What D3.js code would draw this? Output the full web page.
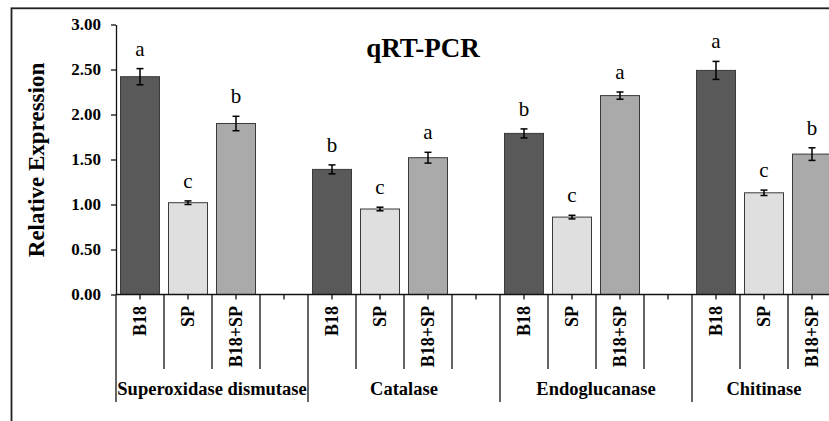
<!DOCTYPE html>
<html>
<head>
<meta charset="utf-8">
<script src="https://cdn.jsdelivr.net/npm/d3@7"></script>
<style>
  body { margin: 0; background: #fff; }
  svg { display: block; }
  text { font-family: "Liberation Serif", "Times New Roman", serif; fill: #000; }
</style>
</head>
<body>
<svg id="chart" width="829" height="421"></svg>
<script>
// data
var genes = ["Superoxidase dismutase", "Catalase", "Endoglucanase", "Chitinase"];
var treatments = ["B18", "SP", "B18+SP"];
var b18Mean = [2.42, 1.39, 1.79, 2.49];
var spMean = [1.02, 0.95, 0.86, 1.13];
var comboMean = [1.90, 1.52, 2.21, 1.56];
var b18Err = [0.09, 0.05, 0.05, 0.10];
var spErr = [0.02, 0.02, 0.02, 0.03];
var comboErr = [0.08, 0.06, 0.04, 0.07];
var b18Letter = ["a", "b", "b", "a"];
var spLetter = ["c", "c", "c", "c"];
var comboLetter = ["b", "a", "a", "b"];
var yTicks = [0, 0.5, 1, 1.5, 2, 2.5, 3];

var bar_color = { "B18": "#595959", "SP": "#dfdfdf", "B18+SP": "#aaaaaa" };

// one slot per bar, plus an empty slot closing every group except the last
let slots = [];
let rows = [];
genes.forEach(function (g, gi) {
  let means = [b18Mean[gi], spMean[gi], comboMean[gi]];
  let errs = [b18Err[gi], spErr[gi], comboErr[gi]];
  let letters = [b18Letter[gi], spLetter[gi], comboLetter[gi]];
  treatments.forEach(function (t, ti) {
    let key = g + "|" + t;
    slots.push(key);
    rows.push({ key: key, gene: g, treat: t, mean: means[ti], err: errs[ti], letter: letters[ti] });
  });
  if (gi < genes.length - 1) slots.push(g + "|gap");
});

var svg = d3.select("#chart");

var x0 = 116, x1 = 836, yBase = 294.5, yTop = 24.5;

var x = d3.scaleBand()
  .domain(slots)
  .range([x0, x1])
  .paddingInner(0.1875)
  .paddingOuter(0.09375);
var step = x.step();

var y = d3.scaleLinear().domain([0, 3]).range([yBase, yTop]);

// outer frame (runs off the page on the right and bottom)
svg.append("rect")
  .attr("x", 11.5).attr("y", 8.3)
  .attr("width", 900).attr("height", 500)
  .attr("fill", "none").attr("stroke", "#222").attr("stroke-width", 1.8);

// title
svg.append("text")
  .attr("x", 423).attr("y", 57)
  .attr("text-anchor", "middle")
  .style("font-size", "27px").style("font-weight", "bold")
  .text("qRT-PCR");

// y axis
var yAxis = svg.append("g")
  .attr("transform", "translate(" + x0 + ",0)")
  .call(d3.axisLeft(y).tickValues(yTicks).tickFormat(d3.format(".2f")).tickSize(5).tickSizeOuter(0));
yAxis.select(".domain").attr("stroke", "#111").attr("stroke-width", 1.3);
yAxis.selectAll(".tick line").attr("stroke", "#111").attr("stroke-width", 1.3);
yAxis.selectAll(".tick text")
  .attr("x", -15)
  .style("font-family", "'Liberation Serif', 'Times New Roman', serif")
  .style("font-size", "17px").style("font-weight", "bold").attr("fill", "#000");

svg.append("text")
  .attr("transform", "translate(44,160) rotate(-90)")
  .attr("text-anchor", "middle")
  .style("font-size", "23px").style("font-weight", "bold")
  .text("Relative Expression");

// bars
var bars = svg.append("g").selectAll("rect").data(rows).enter();

bars.append("rect")
  .attr("x", d => x(d.key))
  .attr("y", d => y(d.mean))
  .attr("width", x.bandwidth())
  .attr("height", d => y(0) - y(d.mean))
  .attr("fill", d => bar_color[d.treat])
  .attr("stroke", "#3a3a3a").attr("stroke-width", 1);

// error bars
var eb = svg.append("g").selectAll("g").data(rows).enter().append("g")
  .attr("stroke", "#000").attr("stroke-width", 1.5);
eb.append("line")
  .attr("x1", d => x(d.key) + x.bandwidth() / 2).attr("x2", d => x(d.key) + x.bandwidth() / 2)
  .attr("y1", d => y(d.mean + d.err)).attr("y2", d => y(d.mean - d.err));
eb.append("line")
  .attr("x1", d => x(d.key) + x.bandwidth() / 2 - 3.5).attr("x2", d => x(d.key) + x.bandwidth() / 2 + 3.5)
  .attr("y1", d => y(d.mean + d.err)).attr("y2", d => y(d.mean + d.err));
eb.append("line")
  .attr("x1", d => x(d.key) + x.bandwidth() / 2 - 3.5).attr("x2", d => x(d.key) + x.bandwidth() / 2 + 3.5)
  .attr("y1", d => y(d.mean - d.err)).attr("y2", d => y(d.mean - d.err));

// significance letters
svg.append("g").selectAll("text").data(rows).enter().append("text")
  .attr("x", d => x(d.key) + x.bandwidth() / 2)
  .attr("y", d => y(d.mean + d.err) - 13)
  .attr("text-anchor", "middle")
  .style("font-size", "21px")
  .text(d => d.letter);

// x axis line
svg.append("line")
  .attr("x1", x0).attr("x2", x1).attr("y1", yBase).attr("y2", yBase)
  .attr("stroke", "#111").attr("stroke-width", 1.3);

// small ticks at slot centres
svg.append("g").selectAll("line").data(slots).enter().append("line")
  .attr("x1", d => x(d) + x.bandwidth() / 2).attr("x2", d => x(d) + x.bandwidth() / 2)
  .attr("y1", yBase).attr("y2", yBase + 5)
  .attr("stroke", "#111").attr("stroke-width", 1.3);

// slot dividers: long ones between genes, shorter inside a gene
let dividers = [];
slots.forEach(function (s, i) {
  let start = x0 + i * step;
  let first = i == 0 || s.split("|")[0] != slots[i - 1].split("|")[0];
  dividers.push({ pos: start, long: first });
});
dividers.push({ pos: x1, long: true });

svg.append("g").selectAll("line").data(dividers).enter().append("line")
  .attr("x1", d => d.pos).attr("x2", d => d.pos)
  .attr("y1", yBase).attr("y2", d => d.long ? 402 : 369)
  .attr("stroke", "#111").attr("stroke-width", 1.3);

// treatment labels
svg.append("g").selectAll("text").data(rows).enter().append("text")
  .attr("transform", d => "translate(" + (x(d.key) + x.bandwidth() / 2 + 6) + ",306) rotate(-90)")
  .attr("text-anchor", "end")
  .style("font-size", "18px").style("font-weight", "bold")
  .text(d => d.treat);

// gene labels centred under their group
svg.append("g").selectAll("text").data(genes).enter().append("text")
  .attr("x", function (g) {
    let idx = slots.map((s, i) => s.split("|")[0] == g ? i : -1).filter(i => i >= 0);
    let a = x0 + idx[0] * step, b = x0 + (idx[idx.length - 1] + 1) * step;
    return (a + b) / 2;
  })
  .attr("y", 395)
  .attr("text-anchor", "middle")
  .style("font-size", "18.5px").style("font-weight", "bold")
  .text(g => g);
</script>
</body>
</html>
